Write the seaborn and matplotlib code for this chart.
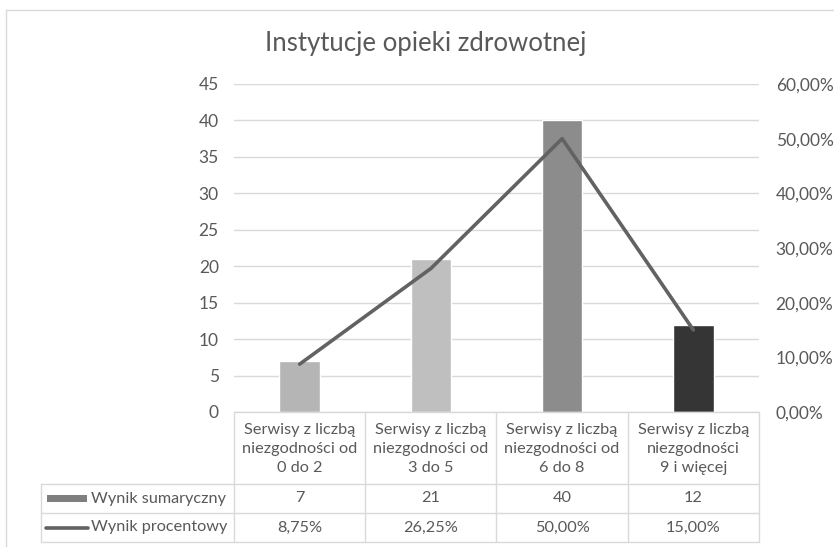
import matplotlib
matplotlib.use("Agg")
import matplotlib.pyplot as plt
import matplotlib.lines as mlines
import matplotlib.patches as mpatches
import seaborn as sns
import pandas as pd
import numpy as np

title = "Instytucje opieki zdrowotnej"
categories = ["Serwisy z liczbą\nniezgodności od\n0 do 2",
              "Serwisy z liczbą\nniezgodności od\n3 do 5",
              "Serwisy z liczbą\nniezgodności od\n6 do 8",
              "Serwisy z liczbą\nniezgodności\n9 i więcej"]
counts = [7, 21, 40, 12]
percents = [0.0875, 0.2625, 0.50, 0.15]
count_labels = ["7", "21", "40", "12"]
percent_labels = ["8,75%", "26,25%", "50,00%", "15,00%"]
series_names = ["Wynik sumaryczny", "Wynik procentowy"]
bar_colors = ["#b5b5b5", "#bfbfbf", "#8c8c8c", "#353535"]
line_color = "#626262"
left_ticks = list(range(0, 50, 5))
right_ticks = [0.0, 0.1, 0.2, 0.3, 0.4, 0.5, 0.6]

sns.set_theme(style="white")
plt.rcParams['font.family'] = ['Lato', 'DejaVu Sans']

W, H = 834, 547
fig = plt.figure(figsize=(W / 100, H / 100), dpi=100)
fig.patch.set_facecolor("white")

def fx(px):
    return px / W

def fy(py):
    return 1 - py / H

x0, x1, y0, y1 = 234, 759, 412, 84
ax = fig.add_axes([fx(x0), fy(y0), fx(x1) - fx(x0), fy(y1) - fy(y0)])

df = pd.DataFrame({"cat": categories, "count": counts, "pct": percents})
sns.barplot(data=df, x="cat", y="count", hue="cat", palette=bar_colors,
            width=0.31, ax=ax, legend=False, saturation=1, zorder=3)
ax.set_ylim(0, 45)
ax.set_xlim(-0.5, 3.5)
ax.set_yticks(left_ticks)
ax.set_yticklabels([str(t) for t in left_ticks])
ax.yaxis.grid(True, color="#d9d9d9", linewidth=1.0, zorder=0)
ax.set_axisbelow(True)
ax.set_xticks([])
ax.set_xlabel("")
ax.set_ylabel("")
for s in ax.spines.values():
    s.set_visible(False)
ax.tick_params(axis="y", length=0, pad=11, labelsize=12.5, labelcolor="#595959")

ax2 = ax.twinx()
sns.lineplot(x=np.arange(len(percents)), y=percents, ax=ax2, color=line_color,
             linewidth=2.6, zorder=4)
ax2.set_ylim(0, 0.6)
ax2.set_yticks(right_ticks)
ax2.set_yticklabels([f"{t*100:.2f}%".replace(".", ",") for t in right_ticks])
ax2.set_xlim(-0.5, 3.5)
for s in ax2.spines.values():
    s.set_visible(False)
ax2.tick_params(axis="y", length=0, pad=12, labelsize=12.5, labelcolor="#595959")
ax2.grid(False)

# Title
fig.text(fx(426), fy(44), title, ha="center", va="center", fontsize=18.5, color="#595959")

# Data table
grid_c = "#d9d9d9"
txt_c = "#595959"
tfs = 11.7
col_edges = np.linspace(x0, x1, len(categories) + 1)
row_top, row1, row2, row3 = 412, 484, 513, 542
label_left = 41

def hline(y, xa, xb):
    fig.add_artist(mlines.Line2D([fx(xa), fx(xb)], [fy(y), fy(y)], color=grid_c, lw=1.0))

def vline(x, ya, yb):
    fig.add_artist(mlines.Line2D([fx(x), fx(x)], [fy(ya), fy(yb)], color=grid_c, lw=1.0))

hline(row_top, x0, x1)
hline(row1, label_left, x1)
hline(row2, label_left, x1)
hline(row3, label_left, x1)
for xe in col_edges:
    vline(xe, row_top, row3)
vline(label_left, row1, row3)

for i, cat in enumerate(categories):
    cx = (col_edges[i] + col_edges[i + 1]) / 2
    fig.text(fx(cx), fy((row_top + row1) / 2 + 1), cat, ha="center", va="center",
             fontsize=tfs, color=txt_c, linespacing=1.45)
    fig.text(fx(cx), fy((row1 + row2) / 2), count_labels[i], ha="center", va="center",
             fontsize=tfs, color=txt_c)
    fig.text(fx(cx), fy((row2 + row3) / 2), percent_labels[i], ha="center", va="center",
             fontsize=tfs, color=txt_c)

# legend keys
ym1 = (row1 + row2) / 2
fig.add_artist(mpatches.Rectangle((fx(47), fy(ym1 + 3.5)), fx(87) - fx(47), fy(ym1 - 3.5) - fy(ym1 + 3.5),
                                  color="#7f7f7f", lw=0))
ym2 = (row2 + row3) / 2
fig.add_artist(mlines.Line2D([fx(46), fx(88)], [fy(ym2), fy(ym2)], color=line_color, lw=2.6))
fig.text(fx(91), fy(ym1), series_names[0], ha="left", va="center", fontsize=tfs, color=txt_c)
fig.text(fx(91), fy(ym2), series_names[1], ha="left", va="center", fontsize=tfs, color=txt_c)

# outer chart border
fig.add_artist(mlines.Line2D([fx(6), fx(834)], [fy(10), fy(10)], color=grid_c, lw=1.0))
fig.add_artist(mlines.Line2D([fx(6), fx(6)], [fy(10), fy(547)], color=grid_c, lw=1.0))

fig.savefig("out.png", dpi=100, facecolor="white")
